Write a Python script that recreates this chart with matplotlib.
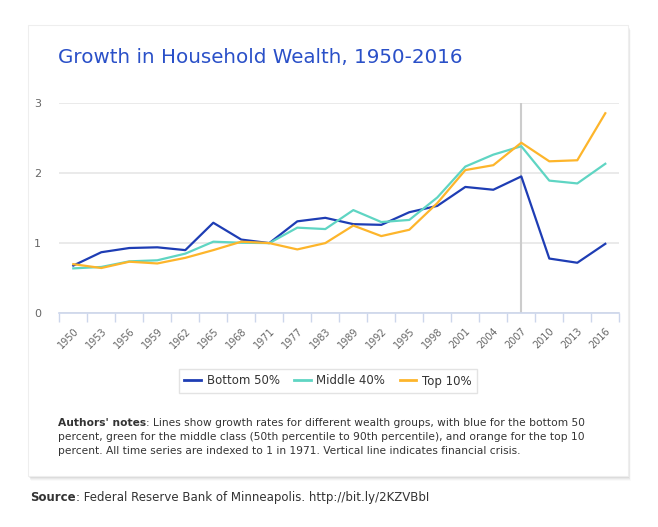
import numpy as np
import matplotlib
matplotlib.use("Agg")
import matplotlib.pyplot as plt
from matplotlib.patches import Rectangle
from matplotlib.lines import Line2D

plt.rcParams['font.family'] = ['DejaVu Sans']

years = ['1950', '1953', '1956', '1959', '1962', '1965', '1968', '1971', '1977', '1983',
         '1989', '1992', '1995', '1998', '2001', '2004', '2007', '2010', '2013', '2016']
bottom50 = [0.68, 0.87, 0.93, 0.94, 0.90, 1.29, 1.05, 1.00, 1.31, 1.36,
            1.27, 1.26, 1.44, 1.53, 1.80, 1.76, 1.95, 0.78, 0.72, 0.99]
middle40 = [0.64, 0.66, 0.74, 0.755, 0.85, 1.02, 1.005, 1.00, 1.22, 1.20,
            1.47, 1.30, 1.33, 1.65, 2.09, 2.26, 2.38, 1.89, 1.85, 2.13]
top10 = [0.70, 0.645, 0.735, 0.71, 0.79, 0.90, 1.02, 1.00, 0.91, 1.00,
         1.25, 1.10, 1.19, 1.57, 2.04, 2.11, 2.43, 2.165, 2.18, 2.85]
series_names = ['Bottom 50%', 'Middle 40%', 'Top 10%']
colors = ['#1e3db4', '#5fd5c3', '#fdb52b']
crisis_year = '2007'

W, H = 658, 527
fig = plt.figure(figsize=(W / 100, H / 100), dpi=100)
fig.patch.set_facecolor('white')


def fx(px):
    return px / W


def fy(py):
    return 1 - py / H


# card with a soft shadow
for i, a in enumerate([0.05, 0.05, 0.04, 0.03, 0.02]):
    off = i + 1
    fig.patches.append(Rectangle((fx(28 + off * 0.6), fy(476 + off)), fx(600), 451 / H,
                                 transform=fig.transFigure, facecolor='black', alpha=a,
                                 edgecolor='none', zorder=0))
fig.patches.append(Rectangle((fx(28), fy(476)), fx(600), 451 / H, transform=fig.transFigure,
                             facecolor='white', edgecolor='#eeeeee', lw=0.8, zorder=1))

ax = fig.add_axes([fx(59.3), fy(313.3), fx(560), 210.6 / H])
ax.set_facecolor('none')
ax.set_zorder(2)

x = np.arange(len(years))
for vals, name, c in zip([bottom50, middle40, top10], series_names, colors):
    ax.plot(x, vals, color=c, lw=1.6, label=name, zorder=3, solid_joinstyle='round')

ax.axvline(years.index(crisis_year), 0, 1, color='#cccccc', lw=1.5, zorder=2)

ax.set_xlim(-0.5, len(years) - 0.5)
ax.set_ylim(0, 3)
ax.set_yticks([0, 1, 2, 3])
ax.set_yticklabels(['0', '1', '2', '3'])
ax.yaxis.grid(True, color='#e6e6e6', lw=1.2)
ax.set_axisbelow(True)
ax.tick_params(axis='y', length=0, pad=13, labelsize=8, labelcolor='#666666')

ax.set_xticks(x)
ax.set_xticklabels(years, rotation=45, ha='right', va='top', rotation_mode='anchor')
ax.tick_params(axis='x', which='major', length=0, pad=9, labelsize=7, labelcolor='#666666')
ax.set_xticks(np.arange(-0.5, len(years)), minor=True)
ax.tick_params(axis='x', which='minor', length=6.5, width=1, color='#ccd6eb')

for s in ['top', 'right', 'left']:
    ax.spines[s].set_visible(False)
ax.spines['bottom'].set_color('#ccd6eb')
ax.spines['bottom'].set_linewidth(1.2)

fig.text(fx(58), fy(63), 'Growth in Household Wealth, 1950-2016', color='#2a50c8',
         fontsize=14.3, va='baseline', ha='left', zorder=5)

handles = [Line2D([0], [0], color=c, lw=2) for c in colors]
leg = fig.legend(handles, series_names, loc='center', bbox_to_anchor=(fx(328), fy(381)),
                 ncol=3, frameon=True, fontsize=8.5, handlelength=1.4, handletextpad=0.5,
                 columnspacing=1.2, fancybox=False, borderpad=0.5)
leg.get_frame().set_edgecolor('#dddddd')
leg.get_frame().set_linewidth(1)
leg.set_zorder(5)
for t in leg.get_texts():
    t.set_color('#333333')

note_bold = "Authors' notes"
note_lines = [": Lines show growth rates for different wealth groups, with blue for the bottom 50",
              "percent, green for the middle class (50th percentile to 90th percentile), and orange for the top 10",
              "percent. All time series are indexed to 1 in 1971. Vertical line indicates financial crisis."]

renderer = fig.canvas.get_renderer()
tb = fig.text(fx(58), fy(426), note_bold, fontsize=7.7, fontweight='bold', color='#333333',
              va='baseline', zorder=5)
bb = tb.get_window_extent(renderer)
fig.text(bb.x1 / W, fy(426), note_lines[0], fontsize=7.7, color='#333333', va='baseline', zorder=5)
for i, line in enumerate(note_lines[1:]):
    fig.text(fx(58), fy(426 + 14 * (i + 1)), line, fontsize=7.7, color='#333333',
             va='baseline', zorder=5)

ts = fig.text(fx(30), fy(501), 'Source', fontsize=8.5, fontweight='bold', color='#333333',
              va='baseline')
bs = ts.get_window_extent(renderer)
fig.text(bs.x1 / W, fy(501), ': Federal Reserve Bank of Minneapolis. http://bit.ly/2KZVBbI',
         fontsize=8.5, color='#333333', va='baseline')

fig.savefig('out.png', dpi=100, facecolor='white')
